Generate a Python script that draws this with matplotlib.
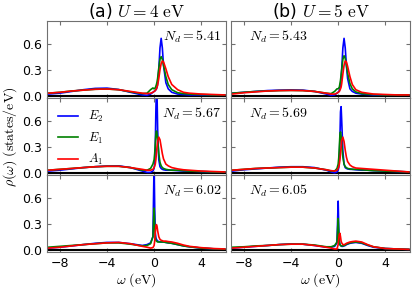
import numpy as np
import matplotlib
matplotlib.use('Agg')
import matplotlib.pyplot as plt

plt.rcParams['mathtext.fontset'] = 'cm'

# energy grid (eV)
w = [-9, -8, -7, -6, -5, -4, -3, -2, -1.5, -1, -0.6, -0.3, -0.1, 0, 0.05, 0.1, 0.15, 0.2, 0.25, 0.3,
     0.4, 0.5, 0.6, 0.7, 0.8, 1.0, 1.2, 1.5, 2, 2.5, 3, 4, 5, 6]

# (a) U=4 eV, Nd=5.41
e2_a1 = [0.02, 0.03, 0.05, 0.07, 0.085, 0.088, 0.072, 0.04, 0.025, 0.01, 0.005, 0.02, 0.04, 0.05, 0.055, 0.06, 0.07,
         0.08, 0.1, 0.14, 0.3, 0.55, 0.66, 0.55, 0.35, 0.15, 0.08, 0.04, 0.02, 0.015, 0.01, 0.01, 0.01, 0.01]
e1_a1 = [0.03, 0.04, 0.055, 0.065, 0.075, 0.078, 0.07, 0.045, 0.035, 0.025, 0.03, 0.07, 0.09, 0.08, 0.085, 0.09, 0.11,
         0.13, 0.16, 0.2, 0.32, 0.42, 0.45, 0.42, 0.35, 0.22, 0.13, 0.07, 0.035, 0.025, 0.02, 0.015, 0.01, 0.01]
a1_a1 = [0.03, 0.04, 0.055, 0.065, 0.075, 0.078, 0.07, 0.05, 0.04, 0.03, 0.025, 0.03, 0.04, 0.05, 0.055, 0.06, 0.07,
         0.08, 0.1, 0.12, 0.2, 0.3, 0.37, 0.4, 0.39, 0.31, 0.22, 0.13, 0.07, 0.04, 0.03, 0.02, 0.015, 0.01]
# (b) U=5 eV, Nd=5.43
e2_b1 = [0.03, 0.04, 0.05, 0.06, 0.065, 0.068, 0.065, 0.05, 0.035, 0.02, 0.005, 0.01, 0.03, 0.04, 0.05, 0.06, 0.09,
         0.12, 0.2, 0.3, 0.55, 0.66, 0.55, 0.35, 0.2, 0.08, 0.05, 0.03, 0.02, 0.015, 0.01, 0.01, 0.01, 0.01]
e1_b1 = [0.03, 0.04, 0.05, 0.055, 0.06, 0.062, 0.06, 0.05, 0.04, 0.03, 0.025, 0.05, 0.08, 0.08, 0.09, 0.1, 0.14,
         0.18, 0.24, 0.3, 0.42, 0.46, 0.43, 0.35, 0.26, 0.14, 0.08, 0.045, 0.025, 0.02, 0.015, 0.01, 0.01, 0.01]
a1_b1 = [0.02, 0.035, 0.045, 0.055, 0.06, 0.062, 0.06, 0.05, 0.04, 0.03, 0.02, 0.02, 0.03, 0.04, 0.045, 0.05, 0.065,
         0.08, 0.1, 0.14, 0.25, 0.35, 0.4, 0.39, 0.34, 0.22, 0.13, 0.07, 0.04, 0.03, 0.02, 0.015, 0.01, 0.01]
# (a) Nd=5.67
e2_a2 = [0.02, 0.03, 0.045, 0.06, 0.07, 0.078, 0.08, 0.06, 0.04, 0.02, 0.005, 0.005, 0.02, 0.05, 0.1, 0.3, 0.7,
         1.0, 0.9, 0.5, 0.15, 0.07, 0.05, 0.04, 0.035, 0.03, 0.03, 0.03, 0.025, 0.02, 0.02, 0.015, 0.01, 0.01]
e1_a2 = [0.03, 0.04, 0.05, 0.06, 0.07, 0.075, 0.075, 0.06, 0.045, 0.03, 0.03, 0.05, 0.1, 0.15, 0.22, 0.33, 0.44,
         0.48, 0.45, 0.38, 0.22, 0.12, 0.08, 0.06, 0.05, 0.04, 0.035, 0.03, 0.03, 0.025, 0.02, 0.015, 0.01, 0.01]
a1_a2 = [0.03, 0.04, 0.05, 0.06, 0.07, 0.075, 0.075, 0.06, 0.05, 0.04, 0.03, 0.03, 0.04, 0.06, 0.08, 0.1, 0.15,
         0.22, 0.3, 0.36, 0.41, 0.38, 0.3, 0.22, 0.16, 0.1, 0.08, 0.06, 0.045, 0.035, 0.03, 0.02, 0.015, 0.01]
# (b) Nd=5.69
e2_b2 = [0.02, 0.035, 0.045, 0.055, 0.065, 0.07, 0.07, 0.06, 0.045, 0.03, 0.01, 0.0, 0.01, 0.03, 0.06, 0.15, 0.4,
         0.7, 0.76, 0.6, 0.25, 0.1, 0.06, 0.05, 0.045, 0.04, 0.04, 0.035, 0.03, 0.03, 0.025, 0.02, 0.015, 0.01]
e1_b2 = [0.03, 0.04, 0.05, 0.055, 0.06, 0.065, 0.065, 0.055, 0.045, 0.035, 0.02, 0.02, 0.05, 0.1, 0.17, 0.3, 0.44,
         0.47, 0.42, 0.33, 0.18, 0.1, 0.07, 0.06, 0.05, 0.045, 0.04, 0.04, 0.035, 0.03, 0.025, 0.02, 0.015, 0.01]
a1_b2 = [0.03, 0.04, 0.05, 0.055, 0.06, 0.065, 0.065, 0.055, 0.045, 0.035, 0.025, 0.02, 0.03, 0.05, 0.07, 0.1, 0.15,
         0.22, 0.3, 0.37, 0.41, 0.36, 0.26, 0.18, 0.13, 0.09, 0.07, 0.055, 0.05, 0.045, 0.04, 0.03, 0.02, 0.01]
# (a) Nd=6.02
e2_a3 = [0.02, 0.03, 0.045, 0.06, 0.075, 0.085, 0.085, 0.07, 0.06, 0.05, 0.06, 0.08, 0.15, 1.0, 0.5, 0.2, 0.14,
         0.12, 0.11, 0.1, 0.095, 0.09, 0.09, 0.09, 0.09, 0.085, 0.08, 0.075, 0.06, 0.045, 0.035, 0.02, 0.012, 0.008]
e1_a3 = [0.03, 0.04, 0.05, 0.06, 0.07, 0.08, 0.08, 0.065, 0.055, 0.045, 0.05, 0.07, 0.15, 0.48, 0.3, 0.15, 0.11,
         0.1, 0.095, 0.09, 0.09, 0.09, 0.09, 0.09, 0.09, 0.085, 0.08, 0.075, 0.06, 0.045, 0.035, 0.02, 0.012, 0.008]
a1_a3 = [0.02, 0.03, 0.045, 0.06, 0.07, 0.08, 0.085, 0.07, 0.055, 0.04, 0.03, 0.02, 0.025, 0.05, 0.1, 0.2, 0.27,
         0.29, 0.27, 0.22, 0.15, 0.12, 0.11, 0.105, 0.1, 0.1, 0.095, 0.09, 0.075, 0.055, 0.04, 0.025, 0.015, 0.01]
# (b) Nd=6.05
e2_b3 = [0.02, 0.03, 0.04, 0.05, 0.06, 0.068, 0.065, 0.05, 0.04, 0.03, 0.03, 0.04, 0.08, 0.56, 0.25, 0.1, 0.06,
         0.05, 0.045, 0.04, 0.04, 0.045, 0.05, 0.06, 0.065, 0.075, 0.08, 0.085, 0.075, 0.05, 0.03, 0.015, 0.01, 0.005]
e1_b3 = [0.03, 0.035, 0.045, 0.05, 0.06, 0.065, 0.065, 0.055, 0.045, 0.035, 0.035, 0.05, 0.09, 0.36, 0.2, 0.09, 0.06,
         0.05, 0.045, 0.045, 0.045, 0.05, 0.055, 0.065, 0.07, 0.08, 0.085, 0.09, 0.08, 0.055, 0.035, 0.015, 0.01, 0.005]
a1_b3 = [0.02, 0.03, 0.04, 0.05, 0.06, 0.065, 0.065, 0.05, 0.04, 0.03, 0.02, 0.01, 0.01, 0.06, 0.12, 0.18, 0.19,
         0.15, 0.1, 0.08, 0.06, 0.06, 0.065, 0.075, 0.08, 0.09, 0.095, 0.1, 0.09, 0.06, 0.035, 0.015, 0.01, 0.005]

nd_labels = [['5.41', '5.43'], ['5.67', '5.69'], ['6.02', '6.05']]
curves = [[(e2_a1, e1_a1, a1_a1), (e2_b1, e1_b1, a1_b1)],
          [(e2_a2, e1_a2, a1_a2), (e2_b2, e1_b2, a1_b2)],
          [(e2_a3, e1_a3, a1_a3), (e2_b3, e1_b3, a1_b3)]]
titles = [r'(a) $U=4\ \mathrm{eV}$', r'(b) $U=5\ \mathrm{eV}$']

fig, axes = plt.subplots(3, 2, figsize=(4.15, 2.91), dpi=100, sharex=True, sharey=True)
fig.subplots_adjust(left=0.113, right=0.988, top=0.928, bottom=0.134, hspace=0, wspace=0.028)

for i in range(3):
    for j in range(2):
        ax = axes[i, j]
        e2, e1, a1 = curves[i][j]
        ax.axhline(0, color='black', lw=1.5)
        ax.plot(w, e2, color='blue', lw=1.2, label='$E_2$')
        ax.plot(w, e1, color='green', lw=1.2, label='$E_1$')
        ax.plot(w, a1, color='red', lw=1.2, label='$A_1$')
        for s in ax.spines.values():
            s.set_color('#707070')
        ax.tick_params(direction='in', top=True, right=True, labelsize=9, length=3,
                       color='#707070', width=0.8)
        if j == 0:
            ax.text(0.975, 0.79, r'$N_d=%s$' % nd_labels[i][j], transform=ax.transAxes,
                    ha='right', va='center', fontsize=10)
        else:
            ax.text(0.1, 0.79, r'$N_d=%s$' % nd_labels[i][j], transform=ax.transAxes,
                    ha='left', va='center', fontsize=10)

axes[0, 0].set_xlim(-9.1, 6.1)
axes[0, 0].set_ylim(-0.025, 0.86)
axes[0, 0].set_xticks([-8, -4, 0, 4])
axes[0, 0].set_yticks([0.0, 0.3, 0.6])
axes[0, 0].set_yticklabels(['0.0', '0.3', '0.6'])

for j in range(2):
    axes[0, j].set_title(titles[j], fontsize=12.5, pad=3)
    axes[2, j].set_xlabel(r'$\omega\ \mathrm{(eV)}$', fontsize=10, labelpad=1)

axes[1, 0].set_ylabel(r'$\rho(\omega)\ \mathrm{(states/eV)}$', fontsize=10, labelpad=2)
axes[1, 0].legend(loc='upper left', frameon=False, fontsize=9, handlelength=1.6)

fig.savefig('out.png', dpi=100)
